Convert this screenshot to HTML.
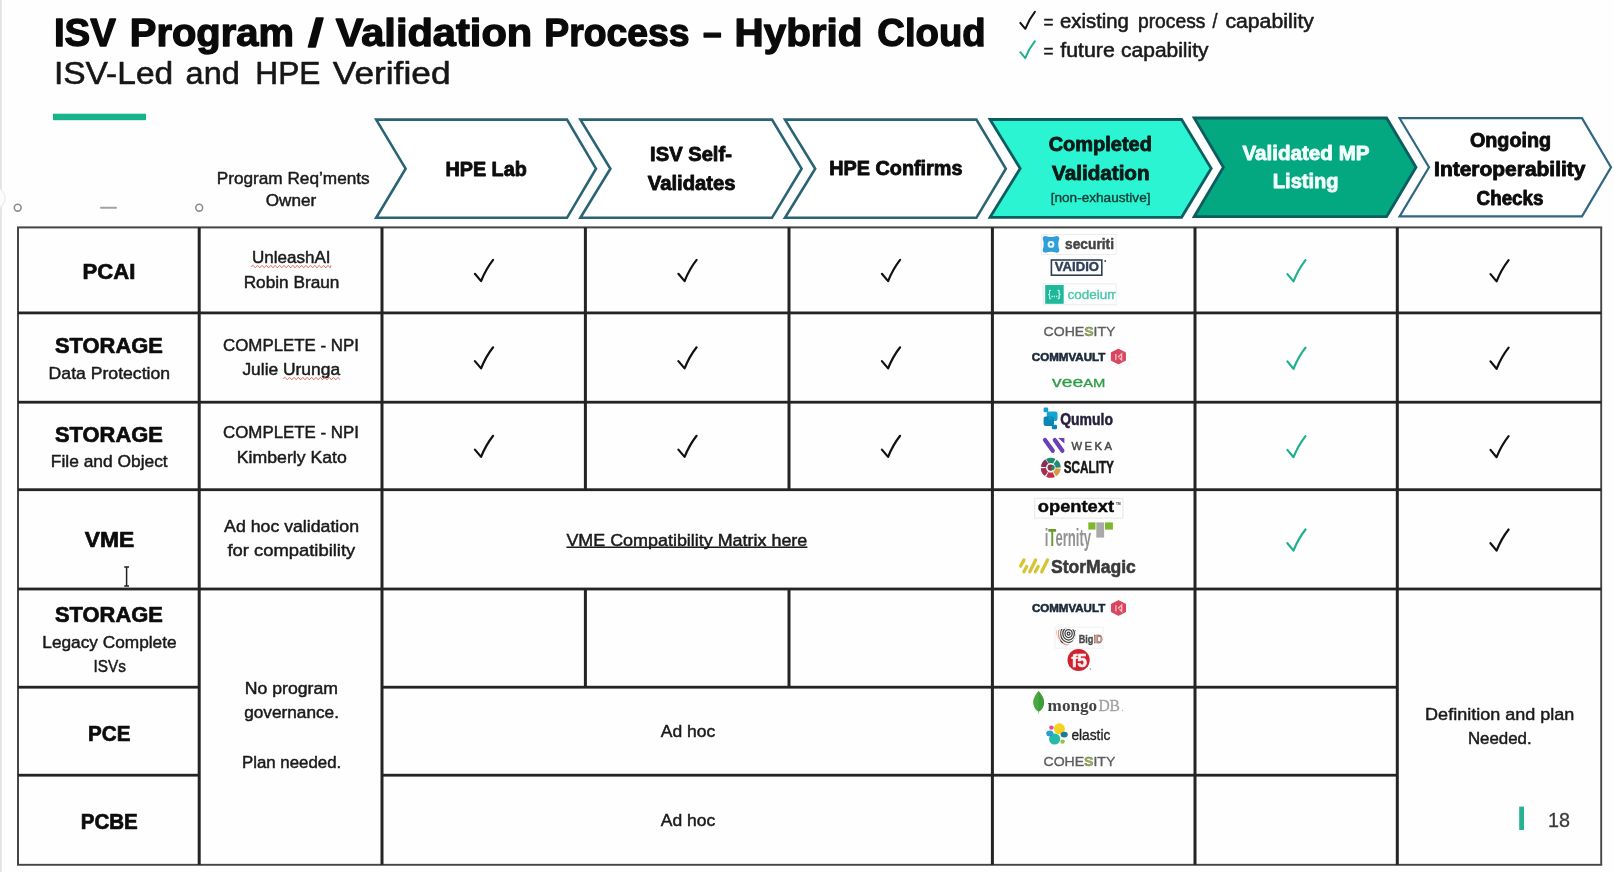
<!DOCTYPE html>
<html><head><meta charset="utf-8"><title>ISV Program / Validation Process</title>
<style>
html,body{margin:0;padding:0;background:#fefefe;}
body{width:1614px;height:872px;overflow:hidden;position:relative;font-family:"Liberation Sans",sans-serif;}
svg{position:absolute;left:0;top:0;display:block;filter:blur(0.4px);}
text{white-space:pre;}
</style></head><body>
<svg width="1614" height="872" viewBox="0 0 1614 872">
<rect x="0" y="0" width="1614" height="872" fill="#fefefe"/>
<rect x="0" y="0" width="1.8" height="872" fill="#e2e2e2"/>
<circle cx="-6" cy="198.2" r="11" fill="#fcfcfc" stroke="#ededed" stroke-width="1.2"/>
<text x="53.90" y="46.10" font-size="39" font-family="Liberation Sans, sans-serif" font-weight="bold" fill="#0a0a0a" textLength="61.99" lengthAdjust="spacingAndGlyphs" stroke="#0a0a0a" stroke-width="1.30" stroke-linejoin="round">ISV</text>
<text x="129.80" y="46.10" font-size="39" font-family="Liberation Sans, sans-serif" font-weight="bold" fill="#0a0a0a" textLength="164.21" lengthAdjust="spacingAndGlyphs" stroke="#0a0a0a" stroke-width="1.30" stroke-linejoin="round">Program</text>
<text x="308.00" y="46.10" font-size="39" font-family="Liberation Sans, sans-serif" font-weight="bold" fill="#0a0a0a" textLength="15.49" lengthAdjust="spacingAndGlyphs" stroke="#0a0a0a" stroke-width="1.30" stroke-linejoin="round">/</text>
<text x="335.80" y="46.10" font-size="39" font-family="Liberation Sans, sans-serif" font-weight="bold" fill="#0a0a0a" textLength="196.41" lengthAdjust="spacingAndGlyphs" stroke="#0a0a0a" stroke-width="1.30" stroke-linejoin="round">Validation</text>
<text x="544.30" y="46.10" font-size="39" font-family="Liberation Sans, sans-serif" font-weight="bold" fill="#0a0a0a" textLength="145.29" lengthAdjust="spacingAndGlyphs" stroke="#0a0a0a" stroke-width="1.30" stroke-linejoin="round">Process</text>
<text x="702.90" y="46.10" font-size="39" font-family="Liberation Sans, sans-serif" font-weight="bold" fill="#0a0a0a" textLength="18.61" lengthAdjust="spacingAndGlyphs" stroke="#0a0a0a" stroke-width="1.30" stroke-linejoin="round">–</text>
<text x="734.50" y="46.10" font-size="39" font-family="Liberation Sans, sans-serif" font-weight="bold" fill="#0a0a0a" textLength="128.00" lengthAdjust="spacingAndGlyphs" stroke="#0a0a0a" stroke-width="1.30" stroke-linejoin="round">Hybrid</text>
<text x="877.30" y="46.10" font-size="39" font-family="Liberation Sans, sans-serif" font-weight="bold" fill="#0a0a0a" textLength="108.38" lengthAdjust="spacingAndGlyphs" stroke="#0a0a0a" stroke-width="1.30" stroke-linejoin="round">Cloud</text>
<text x="53.90" y="84.30" font-size="32" font-family="Liberation Sans, sans-serif" fill="#161616" textLength="119.30" lengthAdjust="spacingAndGlyphs" stroke="#161616" stroke-width="0.60" stroke-linejoin="round">ISV-Led</text>
<text x="185.60" y="84.30" font-size="32" font-family="Liberation Sans, sans-serif" fill="#161616" textLength="54.22" lengthAdjust="spacingAndGlyphs" stroke="#161616" stroke-width="0.60" stroke-linejoin="round">and</text>
<text x="255.30" y="84.30" font-size="32" font-family="Liberation Sans, sans-serif" fill="#161616" textLength="65.11" lengthAdjust="spacingAndGlyphs" stroke="#161616" stroke-width="0.60" stroke-linejoin="round">HPE</text>
<text x="332.80" y="84.30" font-size="32" font-family="Liberation Sans, sans-serif" fill="#161616" textLength="117.72" lengthAdjust="spacingAndGlyphs" stroke="#161616" stroke-width="0.60" stroke-linejoin="round">Verified</text>
<rect x="53" y="113.7" width="93" height="6.5" fill="#17b38a"/>
<path d="M1020.3,22.9 L1025.3,28.8 Q1029.0,19.3 1034.9,11.9" fill="none" stroke="#111" stroke-width="2.0" stroke-linecap="round" stroke-linejoin="round"/>
<path d="M1020.3,52.2 L1025.3,58.1 Q1029.0,48.6 1034.9,41.2" fill="none" stroke="#1fb08c" stroke-width="2.0" stroke-linecap="round" stroke-linejoin="round"/>
<text x="1043.40" y="27.60" font-size="17.5" font-family="Liberation Sans, sans-serif" fill="#1a1a1a" textLength="10.00" lengthAdjust="spacingAndGlyphs" stroke="#1a1a1a" stroke-width="0.49" stroke-linejoin="round">=</text>
<text x="1060.00" y="28.00" font-size="19.8" font-family="Liberation Sans, sans-serif" fill="#1a1a1a" textLength="68.89" lengthAdjust="spacingAndGlyphs" stroke="#1a1a1a" stroke-width="0.55" stroke-linejoin="round">existing</text>
<text x="1138.00" y="28.00" font-size="19.8" font-family="Liberation Sans, sans-serif" fill="#1a1a1a" textLength="67.41" lengthAdjust="spacingAndGlyphs" stroke="#1a1a1a" stroke-width="0.55" stroke-linejoin="round">process</text>
<text x="1212.60" y="28.00" font-size="19.8" font-family="Liberation Sans, sans-serif" fill="#1a1a1a" textLength="5.00" lengthAdjust="spacingAndGlyphs" stroke="#1a1a1a" stroke-width="0.55" stroke-linejoin="round">/</text>
<text x="1225.40" y="28.00" font-size="19.8" font-family="Liberation Sans, sans-serif" fill="#1a1a1a" textLength="88.50" lengthAdjust="spacingAndGlyphs" stroke="#1a1a1a" stroke-width="0.55" stroke-linejoin="round">capability</text>
<text x="1043.40" y="56.90" font-size="17.5" font-family="Liberation Sans, sans-serif" fill="#1a1a1a" textLength="10.00" lengthAdjust="spacingAndGlyphs" stroke="#1a1a1a" stroke-width="0.49" stroke-linejoin="round">=</text>
<text x="1060.30" y="57.30" font-size="19.8" font-family="Liberation Sans, sans-serif" fill="#1a1a1a" textLength="54.50" lengthAdjust="spacingAndGlyphs" stroke="#1a1a1a" stroke-width="0.55" stroke-linejoin="round">future</text>
<text x="1121.10" y="57.30" font-size="19.8" font-family="Liberation Sans, sans-serif" fill="#1a1a1a" textLength="87.40" lengthAdjust="spacingAndGlyphs" stroke="#1a1a1a" stroke-width="0.55" stroke-linejoin="round">capability</text>
<circle cx="17.7" cy="207.7" r="3.4" fill="#fff" stroke="#8c8c8c" stroke-width="1.6"/>
<circle cx="199.2" cy="207.7" r="3.4" fill="#fff" stroke="#8c8c8c" stroke-width="1.6"/>
<rect x="100" y="206.7" width="17" height="2" rx="1" fill="#a2a2a2"/>
<text x="216.70" y="184.30" font-size="16.4" font-family="Liberation Sans, sans-serif" fill="#1a1a1a" textLength="153.00" lengthAdjust="spacingAndGlyphs" stroke="#1a1a1a" stroke-width="0.46" stroke-linejoin="round">Program Req’ments</text>
<text x="265.80" y="206.30" font-size="16.4" font-family="Liberation Sans, sans-serif" fill="#1a1a1a" textLength="50.41" lengthAdjust="spacingAndGlyphs" stroke="#1a1a1a" stroke-width="0.46" stroke-linejoin="round">Owner</text>
<path d="M376.2,119.6 L567,119.6 L596,168.7 L567,217.8 L376.2,217.8 L405.6,168.7 Z" fill="#ffffff" stroke="#2a6474" stroke-width="2.6" stroke-linejoin="miter"/>
<path d="M580.4,119.6 L772,119.6 L801.6,168.7 L772,217.8 L580.4,217.8 L610.4,168.7 Z" fill="#ffffff" stroke="#2a6474" stroke-width="2.6" stroke-linejoin="miter"/>
<path d="M785,119.6 L976.4,119.6 L1005.8,168.7 L976.4,217.8 L785,217.8 L815.2,168.7 Z" fill="#ffffff" stroke="#2a6474" stroke-width="2.6" stroke-linejoin="miter"/>
<path d="M990,119.5 L1181.6,119.5 L1211.2,168.4 L1181.6,217.3 L990,217.3 L1020.2,168.4 Z" fill="#2af4d2" stroke="#0c5c60" stroke-width="2.8" stroke-linejoin="miter"/>
<path d="M1194.2,118 L1386.6,118 L1416,167.3 L1386.6,216.6 L1194.2,216.6 L1223.4,167.3 Z" fill="#03a881" stroke="#0c5c60" stroke-width="2.8" stroke-linejoin="miter"/>
<path d="M1399.6,118.2 L1582,118.2 L1611,167.3 L1582,216.4 L1399.6,216.4 L1429,167.3 Z" fill="#ffffff" stroke="#2f6680" stroke-width="2.2" stroke-linejoin="miter"/>
<text x="445.50" y="175.70" font-size="19.6" font-family="Liberation Sans, sans-serif" font-weight="bold" fill="#0c0c0c" textLength="81.20" lengthAdjust="spacingAndGlyphs" stroke="#0c0c0c" stroke-width="0.85" stroke-linejoin="round">HPE Lab</text>
<text x="650.10" y="160.60" font-size="19.6" font-family="Liberation Sans, sans-serif" font-weight="bold" fill="#0c0c0c" textLength="81.79" lengthAdjust="spacingAndGlyphs" stroke="#0c0c0c" stroke-width="0.85" stroke-linejoin="round">ISV Self-</text>
<text x="647.80" y="189.90" font-size="19.6" font-family="Liberation Sans, sans-serif" font-weight="bold" fill="#0c0c0c" textLength="87.80" lengthAdjust="spacingAndGlyphs" stroke="#0c0c0c" stroke-width="0.85" stroke-linejoin="round">Validates</text>
<text x="829.30" y="174.80" font-size="19.6" font-family="Liberation Sans, sans-serif" font-weight="bold" fill="#0c0c0c" textLength="133.10" lengthAdjust="spacingAndGlyphs" stroke="#0c0c0c" stroke-width="0.85" stroke-linejoin="round">HPE Confirms</text>
<text x="1048.70" y="150.60" font-size="19.6" font-family="Liberation Sans, sans-serif" font-weight="bold" fill="#0b1a17" textLength="103.20" lengthAdjust="spacingAndGlyphs" stroke="#0b1a17" stroke-width="0.85" stroke-linejoin="round">Completed</text>
<text x="1052.10" y="179.70" font-size="19.6" font-family="Liberation Sans, sans-serif" font-weight="bold" fill="#0b1a17" textLength="97.50" lengthAdjust="spacingAndGlyphs" stroke="#0b1a17" stroke-width="0.85" stroke-linejoin="round">Validation</text>
<text x="1050.70" y="201.60" font-size="13.5" font-family="Liberation Sans, sans-serif" fill="#123a34" textLength="99.80" lengthAdjust="spacingAndGlyphs" stroke="#123a34" stroke-width="0.38" stroke-linejoin="round">[non-exhaustive]</text>
<text x="1242.40" y="159.60" font-size="19.6" font-family="Liberation Sans, sans-serif" font-weight="bold" fill="#f2fffb" textLength="127.19" lengthAdjust="spacingAndGlyphs" stroke="#f2fffb" stroke-width="0.85" stroke-linejoin="round">Validated MP</text>
<text x="1272.80" y="188.40" font-size="19.6" font-family="Liberation Sans, sans-serif" font-weight="bold" fill="#f2fffb" textLength="65.81" lengthAdjust="spacingAndGlyphs" stroke="#f2fffb" stroke-width="0.85" stroke-linejoin="round">Listing</text>
<text x="1469.90" y="146.70" font-size="19.4" font-family="Liberation Sans, sans-serif" font-weight="bold" fill="#0c0c0c" textLength="81.20" lengthAdjust="spacingAndGlyphs" stroke="#0c0c0c" stroke-width="0.85" stroke-linejoin="round">Ongoing</text>
<text x="1434.10" y="176.30" font-size="19.4" font-family="Liberation Sans, sans-serif" font-weight="bold" fill="#0c0c0c" textLength="151.39" lengthAdjust="spacingAndGlyphs" stroke="#0c0c0c" stroke-width="0.85" stroke-linejoin="round">Interoperability</text>
<text x="1476.60" y="205.00" font-size="19.4" font-family="Liberation Sans, sans-serif" font-weight="bold" fill="#0c0c0c" textLength="66.89" lengthAdjust="spacingAndGlyphs" stroke="#0c0c0c" stroke-width="0.85" stroke-linejoin="round">Checks</text>
<rect x="17" y="226.40" width="1585.2" height="2.0" fill="#454545"/>
<rect x="17" y="863.85" width="1585.2" height="1.9" fill="#454545"/>
<rect x="17.00" y="227.4" width="2.0" height="637.4" fill="#454545"/>
<rect x="1600.25" y="227.4" width="1.9" height="637.4" fill="#454545"/>
<rect x="18" y="311.50" width="1583.2" height="2.8" fill="#242424"/>
<rect x="18" y="400.80" width="1583.2" height="2.8" fill="#242424"/>
<rect x="18" y="488.30" width="1583.2" height="2.8" fill="#242424"/>
<rect x="18" y="587.60" width="1583.2" height="2.8" fill="#242424"/>
<rect x="18" y="685.80" width="181.2" height="2.8" fill="#242424"/>
<rect x="382" y="685.80" width="1015.3" height="2.8" fill="#242424"/>
<rect x="18" y="773.80" width="181.2" height="2.8" fill="#242424"/>
<rect x="382" y="773.80" width="1015.3" height="2.8" fill="#242424"/>
<rect x="197.70" y="227.4" width="3.0" height="637.4" fill="#242424"/>
<rect x="380.50" y="227.4" width="3.0" height="637.4" fill="#242424"/>
<rect x="990.90" y="227.4" width="3.0" height="637.4" fill="#242424"/>
<rect x="1193.50" y="227.4" width="3.0" height="637.4" fill="#242424"/>
<rect x="1395.80" y="227.4" width="3.0" height="637.4" fill="#242424"/>
<rect x="583.90" y="227.4" width="3.0" height="262.29999999999995" fill="#242424"/>
<rect x="583.90" y="589" width="3.0" height="98.20000000000005" fill="#242424"/>
<rect x="787.50" y="227.4" width="3.0" height="262.29999999999995" fill="#242424"/>
<rect x="787.50" y="589" width="3.0" height="98.20000000000005" fill="#242424"/>
<text x="82.50" y="279.00" font-size="21.3" font-family="Liberation Sans, sans-serif" font-weight="bold" fill="#0c0c0c" textLength="52.80" lengthAdjust="spacingAndGlyphs" stroke="#0c0c0c" stroke-width="0.68" stroke-linejoin="round">PCAI</text>
<text x="55.00" y="352.60" font-size="21.3" font-family="Liberation Sans, sans-serif" font-weight="bold" fill="#0c0c0c" textLength="107.80" lengthAdjust="spacingAndGlyphs" stroke="#0c0c0c" stroke-width="0.68" stroke-linejoin="round">STORAGE</text>
<text x="48.60" y="378.50" font-size="17.2" font-family="Liberation Sans, sans-serif" fill="#1a1a1a" textLength="121.49" lengthAdjust="spacingAndGlyphs" stroke="#1a1a1a" stroke-width="0.48" stroke-linejoin="round">Data Protection</text>
<text x="55.00" y="442.40" font-size="21.3" font-family="Liberation Sans, sans-serif" font-weight="bold" fill="#0c0c0c" textLength="107.80" lengthAdjust="spacingAndGlyphs" stroke="#0c0c0c" stroke-width="0.68" stroke-linejoin="round">STORAGE</text>
<text x="50.80" y="466.50" font-size="17.2" font-family="Liberation Sans, sans-serif" fill="#1a1a1a" textLength="116.89" lengthAdjust="spacingAndGlyphs" stroke="#1a1a1a" stroke-width="0.48" stroke-linejoin="round">File and Object</text>
<text x="84.70" y="546.80" font-size="21.3" font-family="Liberation Sans, sans-serif" font-weight="bold" fill="#0c0c0c" textLength="49.50" lengthAdjust="spacingAndGlyphs" stroke="#0c0c0c" stroke-width="0.68" stroke-linejoin="round">VME</text>
<text x="55.00" y="621.80" font-size="21.3" font-family="Liberation Sans, sans-serif" font-weight="bold" fill="#0c0c0c" textLength="107.80" lengthAdjust="spacingAndGlyphs" stroke="#0c0c0c" stroke-width="0.68" stroke-linejoin="round">STORAGE</text>
<text x="42.30" y="647.50" font-size="17.2" font-family="Liberation Sans, sans-serif" fill="#1a1a1a" textLength="134.30" lengthAdjust="spacingAndGlyphs" stroke="#1a1a1a" stroke-width="0.48" stroke-linejoin="round">Legacy Complete</text>
<text x="93.60" y="671.60" font-size="17.2" font-family="Liberation Sans, sans-serif" fill="#1a1a1a" textLength="32.40" lengthAdjust="spacingAndGlyphs" stroke="#1a1a1a" stroke-width="0.48" stroke-linejoin="round">ISVs</text>
<text x="88.00" y="740.50" font-size="21.3" font-family="Liberation Sans, sans-serif" font-weight="bold" fill="#0c0c0c" textLength="42.40" lengthAdjust="spacingAndGlyphs" stroke="#0c0c0c" stroke-width="0.68" stroke-linejoin="round">PCE</text>
<text x="80.70" y="828.70" font-size="21.3" font-family="Liberation Sans, sans-serif" font-weight="bold" fill="#0c0c0c" textLength="57.11" lengthAdjust="spacingAndGlyphs" stroke="#0c0c0c" stroke-width="0.68" stroke-linejoin="round">PCBE</text>
<text x="252.00" y="262.50" font-size="17.2" font-family="Liberation Sans, sans-serif" fill="#1a1a1a" textLength="78.50" lengthAdjust="spacingAndGlyphs" stroke="#1a1a1a" stroke-width="0.48" stroke-linejoin="round">UnleashAI</text>
<text x="243.70" y="288.20" font-size="17.2" font-family="Liberation Sans, sans-serif" fill="#1a1a1a" textLength="95.70" lengthAdjust="spacingAndGlyphs" stroke="#1a1a1a" stroke-width="0.48" stroke-linejoin="round">Robin Braun</text>
<text x="223.00" y="350.60" font-size="17.2" font-family="Liberation Sans, sans-serif" fill="#1a1a1a" textLength="135.99" lengthAdjust="spacingAndGlyphs" stroke="#1a1a1a" stroke-width="0.48" stroke-linejoin="round">COMPLETE - NPI</text>
<text x="242.40" y="374.50" font-size="17.2" font-family="Liberation Sans, sans-serif" fill="#1a1a1a" textLength="97.69" lengthAdjust="spacingAndGlyphs" stroke="#1a1a1a" stroke-width="0.48" stroke-linejoin="round">Julie Urunga</text>
<text x="223.00" y="437.50" font-size="17.2" font-family="Liberation Sans, sans-serif" fill="#1a1a1a" textLength="135.99" lengthAdjust="spacingAndGlyphs" stroke="#1a1a1a" stroke-width="0.48" stroke-linejoin="round">COMPLETE - NPI</text>
<text x="236.80" y="462.90" font-size="17.2" font-family="Liberation Sans, sans-serif" fill="#1a1a1a" textLength="109.99" lengthAdjust="spacingAndGlyphs" stroke="#1a1a1a" stroke-width="0.48" stroke-linejoin="round">Kimberly Kato</text>
<text x="224.10" y="532.10" font-size="17.2" font-family="Liberation Sans, sans-serif" fill="#1a1a1a" textLength="134.90" lengthAdjust="spacingAndGlyphs" stroke="#1a1a1a" stroke-width="0.48" stroke-linejoin="round">Ad hoc validation</text>
<text x="227.40" y="556.20" font-size="17.2" font-family="Liberation Sans, sans-serif" fill="#1a1a1a" textLength="127.90" lengthAdjust="spacingAndGlyphs" stroke="#1a1a1a" stroke-width="0.48" stroke-linejoin="round">for compatibility</text>
<text x="244.80" y="693.70" font-size="17.2" font-family="Liberation Sans, sans-serif" fill="#1a1a1a" textLength="93.10" lengthAdjust="spacingAndGlyphs" stroke="#1a1a1a" stroke-width="0.48" stroke-linejoin="round">No program</text>
<text x="244.20" y="718.40" font-size="17.2" font-family="Liberation Sans, sans-serif" fill="#1a1a1a" textLength="94.80" lengthAdjust="spacingAndGlyphs" stroke="#1a1a1a" stroke-width="0.48" stroke-linejoin="round">governance.</text>
<text x="242.00" y="768.40" font-size="17.2" font-family="Liberation Sans, sans-serif" fill="#1a1a1a" textLength="99.20" lengthAdjust="spacingAndGlyphs" stroke="#1a1a1a" stroke-width="0.48" stroke-linejoin="round">Plan needed.</text>
<path d="M251,266.6 L253.2,265.3 L255.4,267.9 L257.6,265.3 L259.8,267.9 L262.0,265.3 L264.2,267.9 L266.4,265.3 L268.6,267.9 L270.8,265.3 L273.0,267.9 L275.2,265.3 L277.4,267.9 L279.6,265.3 L281.8,267.9 L284.0,265.3 L286.2,267.9 L288.4,265.3 L290.6,267.9 L292.8,265.3 L295.0,267.9 L297.2,265.3 L299.4,267.9 L301.6,265.3 L303.8,267.9 L306.0,265.3 L308.2,267.9 L310.4,265.3 L312.6,267.9 L314.8,265.3 L317.0,267.9 L319.2,265.3 L321.4,267.9 L323.6,265.3 L325.8,267.9 L328.0,265.3 L330.2,267.9 L331.0,265.3" fill="none" stroke="#e0685c" stroke-width="0.9"/>
<path d="M283,378.6 L285.2,377.3 L287.4,379.9 L289.6,377.3 L291.8,379.9 L294.0,377.3 L296.2,379.9 L298.4,377.3 L300.6,379.9 L302.8,377.3 L305.0,379.9 L307.2,377.3 L309.4,379.9 L311.6,377.3 L313.8,379.9 L316.0,377.3 L318.2,379.9 L320.4,377.3 L322.6,379.9 L324.8,377.3 L327.0,379.9 L329.2,377.3 L331.4,379.9 L333.6,377.3 L335.8,379.9 L338.0,377.3 L340.0,379.9" fill="none" stroke="#e0685c" stroke-width="0.9"/>
<path d="M474.9,273.8 L481.1,281.1 Q485.8,269.2 493.1,259.9" fill="none" stroke="#111" stroke-width="2.2" stroke-linecap="round" stroke-linejoin="round"/>
<path d="M678.4,273.8 L684.6,281.1 Q689.3,269.2 696.6,259.9" fill="none" stroke="#111" stroke-width="2.2" stroke-linecap="round" stroke-linejoin="round"/>
<path d="M881.9,273.8 L888.1,281.1 Q892.8,269.2 900.1,259.9" fill="none" stroke="#111" stroke-width="2.2" stroke-linecap="round" stroke-linejoin="round"/>
<path d="M474.9,361.1 L481.1,368.4 Q485.8,356.6 493.1,347.3" fill="none" stroke="#111" stroke-width="2.2" stroke-linecap="round" stroke-linejoin="round"/>
<path d="M678.4,361.1 L684.6,368.4 Q689.3,356.6 696.6,347.3" fill="none" stroke="#111" stroke-width="2.2" stroke-linecap="round" stroke-linejoin="round"/>
<path d="M881.9,361.1 L888.1,368.4 Q892.8,356.6 900.1,347.3" fill="none" stroke="#111" stroke-width="2.2" stroke-linecap="round" stroke-linejoin="round"/>
<path d="M474.9,449.6 L481.1,456.9 Q485.8,445.1 493.1,435.8" fill="none" stroke="#111" stroke-width="2.2" stroke-linecap="round" stroke-linejoin="round"/>
<path d="M678.4,449.6 L684.6,456.9 Q689.3,445.1 696.6,435.8" fill="none" stroke="#111" stroke-width="2.2" stroke-linecap="round" stroke-linejoin="round"/>
<path d="M881.9,449.6 L888.1,456.9 Q892.8,445.1 900.1,435.8" fill="none" stroke="#111" stroke-width="2.2" stroke-linecap="round" stroke-linejoin="round"/>
<path d="M1287.4,274.1 L1293.5,281.4 Q1298.2,269.6 1305.5,260.2" fill="none" stroke="#1fb08c" stroke-width="2.2" stroke-linecap="round" stroke-linejoin="round"/>
<path d="M1490.5,274.1 L1496.6,281.4 Q1501.3,269.6 1508.6,260.2" fill="none" stroke="#111" stroke-width="2.2" stroke-linecap="round" stroke-linejoin="round"/>
<path d="M1287.4,361.4 L1293.5,368.8 Q1298.2,356.9 1305.5,347.6" fill="none" stroke="#1fb08c" stroke-width="2.2" stroke-linecap="round" stroke-linejoin="round"/>
<path d="M1490.5,361.4 L1496.6,368.8 Q1501.3,356.9 1508.6,347.6" fill="none" stroke="#111" stroke-width="2.2" stroke-linecap="round" stroke-linejoin="round"/>
<path d="M1287.4,449.9 L1293.5,457.2 Q1298.2,445.4 1305.5,436.1" fill="none" stroke="#1fb08c" stroke-width="2.2" stroke-linecap="round" stroke-linejoin="round"/>
<path d="M1490.5,449.9 L1496.6,457.2 Q1501.3,445.4 1508.6,436.1" fill="none" stroke="#111" stroke-width="2.2" stroke-linecap="round" stroke-linejoin="round"/>
<path d="M1287.4,543.2 L1293.5,550.6 Q1298.2,538.8 1305.5,529.5" fill="none" stroke="#1fb08c" stroke-width="2.2" stroke-linecap="round" stroke-linejoin="round"/>
<path d="M1490.5,543.2 L1496.6,550.6 Q1501.3,538.8 1508.6,529.5" fill="none" stroke="#111" stroke-width="2.2" stroke-linecap="round" stroke-linejoin="round"/>
<text x="566.40" y="545.50" font-size="17.2" font-family="Liberation Sans, sans-serif" fill="#1a1a1a" textLength="240.91" lengthAdjust="spacingAndGlyphs" stroke="#1a1a1a" stroke-width="0.48" stroke-linejoin="round">VME Compatibility Matrix here</text>
<rect x="566.4" y="546.5" width="241" height="1.5" fill="#1a1a1a"/>
<text x="660.80" y="737.00" font-size="17.2" font-family="Liberation Sans, sans-serif" fill="#1a1a1a" textLength="54.41" lengthAdjust="spacingAndGlyphs" stroke="#1a1a1a" stroke-width="0.48" stroke-linejoin="round">Ad hoc</text>
<text x="660.80" y="825.50" font-size="17.2" font-family="Liberation Sans, sans-serif" fill="#1a1a1a" textLength="54.41" lengthAdjust="spacingAndGlyphs" stroke="#1a1a1a" stroke-width="0.48" stroke-linejoin="round">Ad hoc</text>
<text x="1425.10" y="720.10" font-size="17.2" font-family="Liberation Sans, sans-serif" fill="#1a1a1a" textLength="149.30" lengthAdjust="spacingAndGlyphs" stroke="#1a1a1a" stroke-width="0.48" stroke-linejoin="round">Definition and plan</text>
<text x="1467.90" y="743.90" font-size="17.2" font-family="Liberation Sans, sans-serif" fill="#1a1a1a" textLength="63.80" lengthAdjust="spacingAndGlyphs" stroke="#1a1a1a" stroke-width="0.48" stroke-linejoin="round">Needed.</text>
<text x="1547.90" y="827.10" font-size="20.5" font-family="Liberation Sans, sans-serif" fill="#3a3a3a" textLength="22.01" lengthAdjust="spacingAndGlyphs" stroke="#3a3a3a" stroke-width="0.30" stroke-linejoin="round">18</text>
<rect x="1519.2" y="806.6" width="4.8" height="23.4" fill="#25b391"/>
<path d="M124.2,567 H129 M126.6,567 V586 M124.2,586 H129" fill="none" stroke="#222" stroke-width="1.5"/>
<rect x="1041.4" y="234.5" width="74.7" height="20.1" fill="#ffffff" stroke="#ededed" stroke-width="1"/>
<path d="M1045.3,236.1 Q1051.0,238.1 1056.7,236.1 Q1059.3,236.1 1059.3,238.7 Q1057.3,244.4 1059.3,250.10000000000002 Q1059.3,252.70000000000002 1056.7,252.70000000000002 Q1051.0,250.70000000000002 1045.3,252.70000000000002 Q1042.7,252.70000000000002 1042.7,250.10000000000002 Q1044.7,244.4 1042.7,238.7 Q1042.7,236.1 1045.3,236.1 Z" fill="#2e9fd9"/>
<circle cx="1051" cy="244.4" r="3.4" fill="#e8f6fd"/><circle cx="1051" cy="244.4" r="1.3" fill="#2e9fd9"/>
<text x="1065.00" y="248.90" font-size="14.8" font-family="Liberation Sans, sans-serif" font-weight="bold" fill="#444444" textLength="49.00" lengthAdjust="spacingAndGlyphs" stroke="#444444" stroke-width="0.47" stroke-linejoin="round">securiti</text>
<rect x="1051.4" y="260" width="50.4" height="15.2" fill="#ffffff" stroke="#2f3f58" stroke-width="1.6"/>
<text x="1054.80" y="270.90" font-size="12.2" font-family="Liberation Sans, sans-serif" font-weight="bold" fill="#2f3f58" textLength="44.19" lengthAdjust="spacingAndGlyphs" stroke="#2f3f58" stroke-width="0.39" stroke-linejoin="round">VAIDIO</text>
<circle cx="1105.2" cy="261" r="0.9" fill="#2f3f58"/>
<rect x="1043.3" y="283.8" width="72.8" height="21" fill="#ffffff" stroke="#ececec" stroke-width="1"/>
<rect x="1045.2" y="285" width="18.5" height="18.8" fill="#20b89b"/>
<text x="1048.30" y="297.30" font-size="9.5" font-family="Liberation Sans, sans-serif" fill="#d8fff5" textLength="12.30" lengthAdjust="spacingAndGlyphs" stroke="#d8fff5" stroke-width="0.27" stroke-linejoin="round">{...}</text>
<clipPath id="cdc"><rect x="1064" y="284" width="51.8" height="21"/></clipPath>
<text x="1067.50" y="298.50" font-size="13.2" font-family="Liberation Sans, sans-serif" fill="#46c7ab" textLength="51.00" lengthAdjust="spacingAndGlyphs" clip-path="url(#cdc)" stroke="#46c7ab" stroke-width="0.37" stroke-linejoin="round">codeium</text>
<text x="1043.60" y="336.40" font-size="13.4" font-family="Liberation Sans, sans-serif" fill="#5e5e5e" textLength="71.80" lengthAdjust="spacingAndGlyphs" stroke="#5e5e5e" stroke-width="0.38" stroke-linejoin="round">COHE<tspan fill="#9ab94a" font-weight="bold">S</tspan>ITY</text>
<text x="1031.80" y="360.50" font-size="11.8" font-family="Liberation Sans, sans-serif" font-weight="bold" fill="#1c2a3a" textLength="73.50" lengthAdjust="spacingAndGlyphs" stroke="#1c2a3a" stroke-width="0.6">COMMVAULT</text>
<polygon points="1118.4,349.40000000000003 1125.3000000000002,352.90000000000003 1125.3000000000002,360.3 1118.4,363.8 1111.5,360.3 1111.5,352.90000000000003" fill="#da4560" stroke="#da4560" stroke-width="1.2" stroke-linejoin="round"/>
<path d="M1115.8000000000002,360.20000000000005 V354.0 M1118.0,357.20000000000005 L1121.6000000000001,353.8 V360.0 L1119.4,358.0" fill="none" stroke="#f3b9c3" stroke-width="1.4"/>
<text x="1052.00" y="387.30" font-size="14.4" font-family="Liberation Sans, sans-serif" fill="#2e9e48" textLength="53.31" lengthAdjust="spacingAndGlyphs" stroke="#2e9e48" stroke-width="0.3">vee<tspan font-size="11">AM</tspan></text>
<g><rect x="1043.6" y="407.6" width="4.6" height="4.6" rx="1.2" fill="#12a0cf"/><rect x="1046.7" y="411.4" width="10.8" height="9.6" rx="2" fill="#15a4d2"/><rect x="1043.6" y="416.6" width="10.4" height="9.4" rx="2" fill="#0a86b4"/><rect x="1051.8" y="424.8" width="5.2" height="4.4" rx="1.2" fill="#0a86b4"/><rect x="1048.5" y="417" width="3.2" height="3" fill="#0f93c2"/></g>
<text x="1060.20" y="425.00" font-size="17" font-family="Liberation Sans, sans-serif" font-weight="bold" fill="#27223c" textLength="52.80" lengthAdjust="spacingAndGlyphs" stroke="#27223c" stroke-width="0.54" stroke-linejoin="round">Qumulo</text>
<g stroke="#6c3fb4" stroke-width="4.2" stroke-linecap="round"><line x1="1045" y1="440" x2="1052.8" y2="450.8"/><line x1="1054.8" y1="440" x2="1062.4" y2="450.8"/></g>
<path d="M1058.2,437.9 H1064.4 V443.6 Z" fill="#6c3fb4"/>
<text x="1071.50" y="449.80" font-size="11.2" font-family="Liberation Sans, sans-serif" fill="#4a4a4a" letter-spacing="2.51" stroke="#4a4a4a" stroke-width="0.50" stroke-linejoin="round">WEKA</text>
<path d="M1047.33,461.27 A7.4,7.4 0 0 1 1054.27,461.27" fill="none" stroke="#1f8a6e" stroke-width="5.2"/>
<path d="M1055.15,461.81 A7.4,7.4 0 0 1 1058.20,467.54" fill="none" stroke="#238a70" stroke-width="5.2"/>
<path d="M1058.16,468.57 A7.4,7.4 0 0 1 1054.72,474.08" fill="none" stroke="#d59a40" stroke-width="5.2"/>
<path d="M1053.81,474.56 A7.4,7.4 0 0 1 1047.33,474.33" fill="none" stroke="#c03048" stroke-width="5.2"/>
<path d="M1046.45,473.79 A7.4,7.4 0 0 1 1043.40,468.06" fill="none" stroke="#a52c50" stroke-width="5.2"/>
<path d="M1043.44,467.03 A7.4,7.4 0 0 1 1046.88,461.52" fill="none" stroke="#8e2c58" stroke-width="5.2"/>
<circle cx="1050.6" cy="467.6" r="3.1" fill="#8f2f48"/><path d="M1050.6,467.6 L1053.8,465 A3.6,3.6 0 0 1 1053,470.6 Z" fill="#1f8a6e"/>
<text x="1063.80" y="473.40" font-size="16.8" font-family="Liberation Sans, sans-serif" font-weight="bold" fill="#161616" textLength="50.10" lengthAdjust="spacingAndGlyphs" stroke="#161616" stroke-width="0.54" stroke-linejoin="round">SCALITY</text>
<rect x="1034.7" y="498.3" width="88.2" height="19.8" fill="#ffffff" stroke="#e6e6e6" stroke-width="1"/>
<text x="1037.80" y="512.10" font-size="16.2" font-family="Liberation Sans, sans-serif" font-weight="bold" fill="#0a0a0a" textLength="76.30" lengthAdjust="spacingAndGlyphs" stroke="#0a0a0a" stroke-width="0.4">opentext</text>
<text x="1116.00" y="504.50" font-size="3.6" font-family="Liberation Sans, sans-serif" font-weight="bold" fill="#555" textLength="4.50" lengthAdjust="spacingAndGlyphs" stroke="#555" stroke-width="0.12" stroke-linejoin="round">TM</text>
<rect x="1088.3" y="522.4" width="7.2" height="7.2" fill="#7db72b"/><rect x="1105" y="522.4" width="7.9" height="7.2" fill="#7db72b"/>
<rect x="1096.3" y="522.4" width="7.8" height="15.2" fill="#aaaaaa"/>
<text x="1044.70" y="545.60" font-size="23.6" font-family="Liberation Sans, sans-serif" font-weight="bold" fill="#929292" textLength="46.39" lengthAdjust="spacingAndGlyphs">i<tspan fill="#6b9a2e">T</tspan>ernity</text>
<g stroke="#d5c535" stroke-width="3.3" stroke-linecap="round"><line x1="1020.6" y1="566" x2="1024" y2="559.9"/><line x1="1023.9" y1="571.7" x2="1026.7" y2="566.4"/><line x1="1029.8" y1="571.7" x2="1035.6" y2="559.9"/><line x1="1035.4" y1="571.7" x2="1038.2" y2="566.4"/><line x1="1041.7" y1="571.7" x2="1047.5" y2="559.9"/></g>
<text x="1051.00" y="572.80" font-size="19.2" font-family="Liberation Sans, sans-serif" font-weight="bold" fill="#3a3a3a" textLength="84.90" lengthAdjust="spacingAndGlyphs" stroke="#3a3a3a" stroke-width="0.61" stroke-linejoin="round">StorMagic</text>
<text x="1031.90" y="612.30" font-size="11.8" font-family="Liberation Sans, sans-serif" font-weight="bold" fill="#1c2a3a" textLength="73.30" lengthAdjust="spacingAndGlyphs" stroke="#1c2a3a" stroke-width="0.6">COMMVAULT</text>
<polygon points="1118.5,600.6999999999999 1125.4,604.1999999999999 1125.4,611.6 1118.5,615.1 1111.6,611.6 1111.6,604.1999999999999" fill="#da4560" stroke="#da4560" stroke-width="1.2" stroke-linejoin="round"/>
<path d="M1115.9,611.5 V605.3 M1118.1,608.5 L1121.7,605.1 V611.3 L1119.5,609.3" fill="none" stroke="#f3b9c3" stroke-width="1.4"/>
<rect x="1055" y="627.2" width="48" height="21" fill="#ffffff" stroke="#f0f0f0" stroke-width="1"/>
<clipPath id="bgs"><path d="M1056.4,630.4 C1060,628.6 1063,629.6 1066.2,628.6 C1069.6,629.8 1072.8,628.8 1076,630.6 C1076.4,638 1072.6,643.4 1065.8,646.8 C1059.4,643.4 1056,638 1056.4,630.4 Z"/></clipPath>
<clipPath id="bgl"><rect x="1054" y="626" width="6.2" height="24"/><rect x="1054" y="643.6" width="24" height="5"/></clipPath>
<clipPath id="bgr"><path d="M1060.2,626 H1080 V643.6 H1060.2 Z"/></clipPath>
<g clip-path="url(#bgs)"><g clip-path="url(#bgr)" fill="none" stroke="#3e3e3e" stroke-width="1.25"><ellipse cx="1068.6" cy="633.6" rx="1.4" ry="1.57"/><ellipse cx="1068.6" cy="633.6" rx="3.6" ry="4.03"/><ellipse cx="1068.6" cy="633.6" rx="5.8" ry="6.50"/><ellipse cx="1068.6" cy="633.6" rx="8.0" ry="8.96"/><ellipse cx="1068.6" cy="633.6" rx="10.2" ry="11.42"/><ellipse cx="1068.6" cy="633.6" rx="12.4" ry="13.89"/></g><g clip-path="url(#bgl)" fill="none" stroke="#e59384" stroke-width="1.25"><ellipse cx="1068.6" cy="633.6" rx="1.4" ry="1.57"/><ellipse cx="1068.6" cy="633.6" rx="3.6" ry="4.03"/><ellipse cx="1068.6" cy="633.6" rx="5.8" ry="6.50"/><ellipse cx="1068.6" cy="633.6" rx="8.0" ry="8.96"/><ellipse cx="1068.6" cy="633.6" rx="10.2" ry="11.42"/><ellipse cx="1068.6" cy="633.6" rx="12.4" ry="13.89"/></g></g>
<text x="1078.80" y="642.50" font-size="10.6" font-family="Liberation Sans, sans-serif" font-weight="bold" fill="#484848" textLength="23.70" lengthAdjust="spacingAndGlyphs" stroke="#484848" stroke-width="0.34" stroke-linejoin="round">Big<tspan fill="#ea8f7e">ID</tspan></text>
<circle cx="1078.6" cy="660" r="11.1" fill="#d0212f"/>
<text x="1071.40" y="667.00" font-size="17.5" font-family="Liberation Sans, sans-serif" font-weight="bold" fill="#fdf3f3" textLength="15.40" lengthAdjust="spacingAndGlyphs" stroke="#fdf3f3" stroke-width="0.56" stroke-linejoin="round">f5</text>
<circle cx="1090.4" cy="669" r="0.7" fill="#888"/>
<path d="M1038.5,691 C1034,696 1032.6,700.5 1033.4,704.5 C1034.2,708.4 1036.6,710.6 1038.3,711.6 L1038.6,714.4 L1038.9,711.6 C1040.8,710.4 1043.2,708 1043.9,704.2 C1044.6,700 1042.8,695.6 1038.5,691 Z" fill="#4ba83f"/>
<path d="M1038.5,691 C1042.8,695.6 1044.6,700 1043.9,704.2 C1043.2,708 1040.8,710.4 1038.9,711.6 L1038.6,714.4 Z" fill="#3f9c38"/>
<text x="1047.60" y="711.00" font-size="17.6" font-family="Liberation Serif, sans-serif" font-weight="bold" fill="#424242" textLength="49.60" lengthAdjust="spacingAndGlyphs">mongo</text>
<text x="1098.40" y="711.00" font-size="17.6" font-family="Liberation Serif, sans-serif" fill="#a0a0a0" textLength="21.60" lengthAdjust="spacingAndGlyphs" stroke="#a0a0a0" stroke-width="0.30" stroke-linejoin="round">DB</text>
<circle cx="1122.4" cy="710.4" r="0.6" fill="#aaa"/>
<circle cx="1059.4" cy="728.8" r="5.5" fill="#f5d21f"/>
<circle cx="1054.6" cy="739" r="5.6" fill="#27b9a9"/>
<ellipse cx="1049.8" cy="733.4" rx="3.6" ry="2.9" fill="#2c9fd1"/>
<ellipse cx="1064.2" cy="734.6" rx="3.6" ry="2.9" fill="#1a7b9d"/>
<circle cx="1051.4" cy="727.6" r="2.2" fill="#e84a8b"/>
<circle cx="1062.6" cy="741.6" r="2.2" fill="#8cc63f"/>
<text x="1071.40" y="739.70" font-size="15.2" font-family="Liberation Sans, sans-serif" fill="#1e1e1e" textLength="38.91" lengthAdjust="spacingAndGlyphs" stroke="#1e1e1e" stroke-width="0.35">elastic</text>
<text x="1043.50" y="766.00" font-size="13.4" font-family="Liberation Sans, sans-serif" fill="#5e5e5e" textLength="71.80" lengthAdjust="spacingAndGlyphs" stroke="#5e5e5e" stroke-width="0.38" stroke-linejoin="round">COHE<tspan fill="#9ab94a" font-weight="bold">S</tspan>ITY</text>
</svg>
</body></html>
